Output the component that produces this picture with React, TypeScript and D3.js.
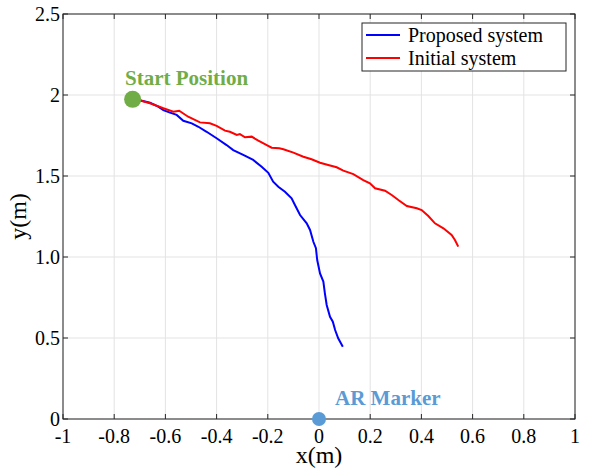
import React from "react";
import * as d3 from "d3";

const proposedX = [-0.72, -0.66, -0.628, -0.608, -0.582, -0.556, -0.53, -0.497, -0.471, -0.439, -0.4, -0.361, -0.335, -0.296, -0.257, -0.224, -0.198, -0.179, -0.159, -0.133, -0.107, -0.094, -0.074, -0.048, -0.035, -0.022, -0.012, -0.007, 0.004, 0.017, 0.023, 0.03, 0.043, 0.054, 0.063, 0.075, 0.093];
const proposedY = [1.975, 1.952, 1.928, 1.907, 1.891, 1.877, 1.841, 1.825, 1.804, 1.773, 1.733, 1.691, 1.66, 1.63, 1.599, 1.557, 1.52, 1.465, 1.434, 1.403, 1.362, 1.321, 1.259, 1.208, 1.167, 1.094, 1.054, 0.981, 0.899, 0.848, 0.776, 0.704, 0.631, 0.601, 0.549, 0.498, 0.446];

const initialX = [-0.72, -0.66, -0.608, -0.569, -0.546, -0.511, -0.465, -0.426, -0.4, -0.367, -0.348, -0.321, -0.309, -0.289, -0.263, -0.237, -0.204, -0.185, -0.155, -0.139, -0.1, -0.061, -0.029, 0.004, 0.036, 0.069, 0.095, 0.134, 0.173, 0.199, 0.219, 0.258, 0.284, 0.31, 0.343, 0.382, 0.401, 0.427, 0.453, 0.486, 0.518, 0.531, 0.544];
const initialY = [1.975, 1.949, 1.918, 1.897, 1.903, 1.866, 1.831, 1.825, 1.809, 1.78, 1.773, 1.753, 1.759, 1.739, 1.743, 1.718, 1.691, 1.675, 1.671, 1.665, 1.644, 1.619, 1.603, 1.582, 1.568, 1.554, 1.533, 1.512, 1.475, 1.455, 1.424, 1.409, 1.383, 1.352, 1.315, 1.301, 1.29, 1.253, 1.208, 1.177, 1.136, 1.105, 1.064];

const xTicks = [-1, -0.8, -0.6, -0.4, -0.2, 0, 0.2, 0.4, 0.6, 0.8, 1];
const xTickLabels = ["-1", "-0.8", "-0.6", "-0.4", "-0.2", "0", "0.2", "0.4", "0.6", "0.8", "1"];
const yTicks = [0, 0.5, 1, 1.5, 2, 2.5];
const yTickLabels = ["0", "0.5", "1.0", "1.5", "2", "2.5"];

const seriesNames = ["Proposed system", "Initial system"];
const seriesColors = ["#0000ff", "#ff0000"];

const startPoint = { x: -0.728, y: 1.973, label: "Start Position" };
const markerPoint = { x: 0, y: 0, label: "AR Marker" };

export default function App() {
  const W = 590, H = 470;
  const L = 63, R = 575, T = 14, B = 419;
  const x = d3.scaleLinear().domain([-1, 1]).range([L, R]);
  const y = d3.scaleLinear().domain([0, 2.5]).range([B, T]);
  const line = d3.line<[number, number]>().x(d => x(d[0])).y(d => y(d[1]));
  const prop = proposedX.map((v, i) => [v, proposedY[i]] as [number, number]);
  const init = initialX.map((v, i) => [v, initialY[i]] as [number, number]);
  const font = "'Liberation Serif', 'Times New Roman', serif";
  const axisColor = "#262626";
  const tl = 5;
  return (
    <svg width={W} height={H} style={{ position: "absolute", left: 0, top: 0, background: "#fff" }} fontFamily={font}>
      <rect x={0} y={0} width={W} height={H} fill="#fff" />
      {/* grid */}
      {xTicks.map((t, i) => (
        <line key={"gx" + i} x1={x(t)} x2={x(t)} y1={T} y2={B} stroke="#e3e3e3" strokeWidth={1} />
      ))}
      {yTicks.map((t, i) => (
        <line key={"gy" + i} x1={L} x2={R} y1={y(t)} y2={y(t)} stroke="#e3e3e3" strokeWidth={1} />
      ))}
      {/* ticks */}
      {xTicks.map((t, i) => (
        <g key={"tx" + i}>
          <line x1={x(t)} x2={x(t)} y1={B} y2={B - tl} stroke={axisColor} />
          <line x1={x(t)} x2={x(t)} y1={T} y2={T + tl} stroke={axisColor} />
          <text x={x(t)} y={443} textAnchor="middle" fontSize={20} fill="#000">{xTickLabels[i]}</text>
        </g>
      ))}
      {yTicks.map((t, i) => (
        <g key={"ty" + i}>
          <line x1={L} x2={L + tl} y1={y(t)} y2={y(t)} stroke={axisColor} />
          <line x1={R} x2={R - tl} y1={y(t)} y2={y(t)} stroke={axisColor} />
          <text x={60} y={y(t)} dy="0.33em" textAnchor="end" fontSize={20} fill="#000">{yTickLabels[i]}</text>
        </g>
      ))}
      {/* box */}
      <rect x={L} y={T} width={R - L} height={B - T} fill="none" stroke={axisColor} strokeWidth={1} />
      {/* lines */}
      <path d={line(prop) || ""} fill="none" stroke={seriesColors[0]} strokeWidth={2} />
      <path d={line(init) || ""} fill="none" stroke={seriesColors[1]} strokeWidth={2} />
      {/* markers */}
      <circle cx={x(startPoint.x)} cy={y(startPoint.y)} r={8.5} fill="#70ad47" />
      <text x={125} y={85} fontSize={21} fontWeight="bold" fill="#70ad47">{startPoint.label}</text>
      <circle cx={x(markerPoint.x)} cy={y(markerPoint.y)} r={7} fill="#5b9bd5" />
      <text x={335} y={405} fontSize={21} fontWeight="bold" fill="#5b9bd5">{markerPoint.label}</text>
      {/* axis labels */}
      <text x={x(0)} y={463} textAnchor="middle" fontSize={24} fill="#000">x(m)</text>
      <text transform={`translate(26, ${(T + B) / 2}) rotate(-90)`} textAnchor="middle" fontSize={24} fill="#000">y(m)</text>
      {/* legend */}
      <rect x={362} y={23} width={204} height={48} fill="#fff" stroke={axisColor} strokeWidth={1} />
      {seriesNames.map((n, i) => (
        <g key={"lg" + i}>
          <line x1={366} x2={400} y1={35 + i * 23} y2={35 + i * 23} stroke={seriesColors[i]} strokeWidth={2} />
          <text x={408} y={42 + i * 23} fontSize={20} fill="#000">{n}</text>
        </g>
      ))}
    </svg>
  );
}
